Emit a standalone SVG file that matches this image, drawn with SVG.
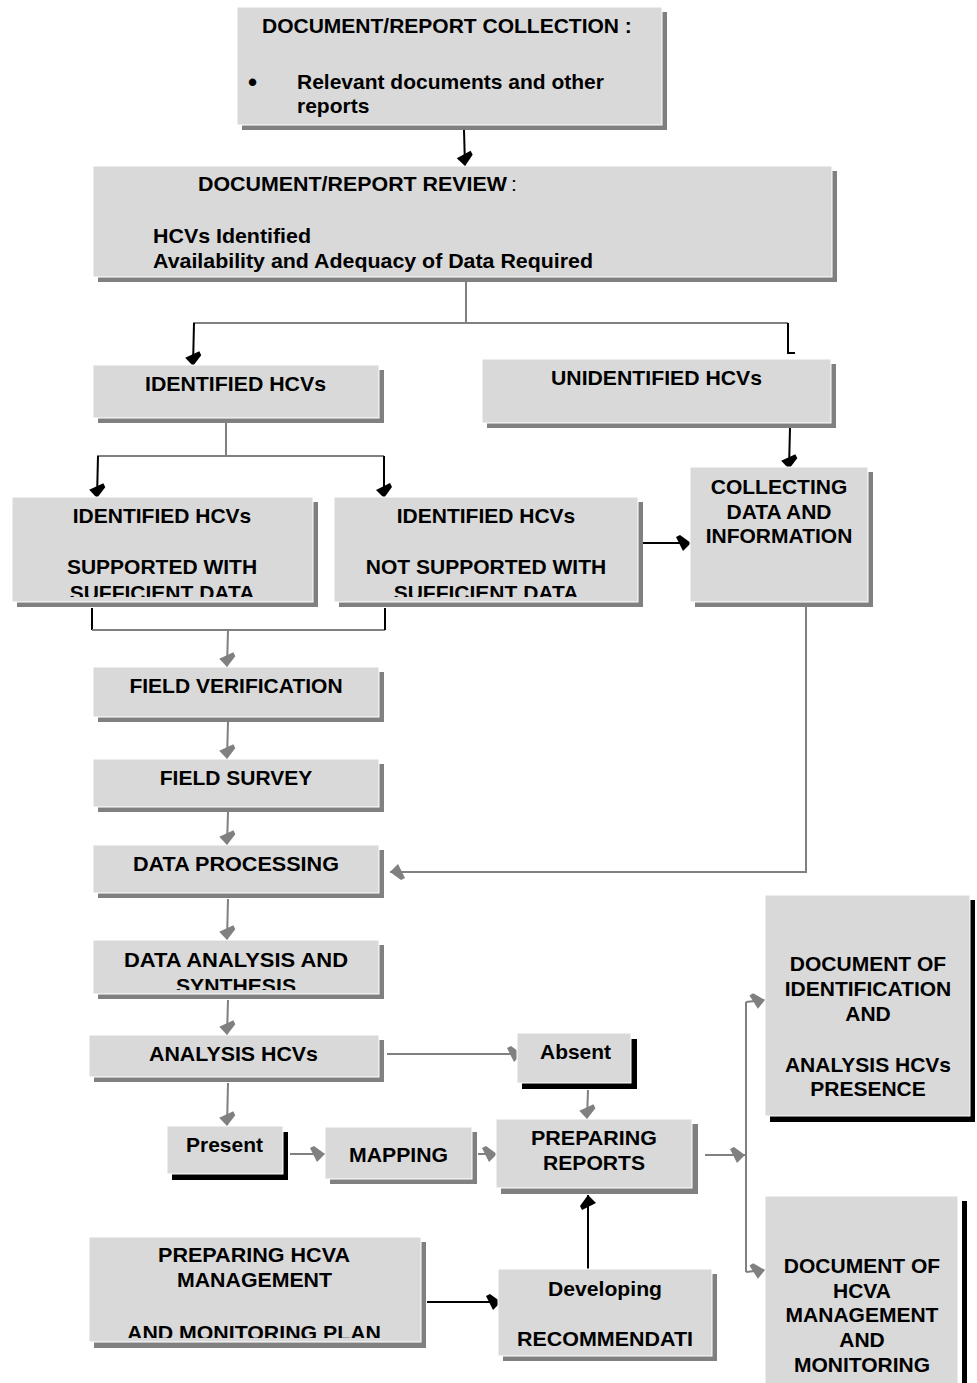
<svg xmlns="http://www.w3.org/2000/svg" width="977" height="1383" viewBox="0 0 977 1383">
<style>
.box{fill:#d9d9d9;stroke:#ffffff;stroke-width:1}
.sh{fill:#808080}
.shk{fill:#000000}
text{font-family:"Liberation Sans",Arial,sans-serif;font-weight:bold;font-size:21px;fill:#000}
.c{text-anchor:middle}
.n{font-weight:normal}
.b{font-size:26px}
.lk{stroke:#000;stroke-width:2;fill:none}
.lg{stroke:#808080;stroke-width:2;fill:none}
</style>
<defs>
<marker id="ak" markerWidth="18" markerHeight="18" refX="16" refY="9" orient="auto" markerUnits="userSpaceOnUse">
<path d="M1,3 L5,1 L16,9 L8,17 Z" fill="#000"/>
</marker>
<marker id="ag" markerWidth="18" markerHeight="18" refX="16" refY="9" orient="auto" markerUnits="userSpaceOnUse">
<path d="M1,3 L5,1 L16,9 L8,17 Z" fill="#808080"/>
</marker>
<clipPath id="cl5"><rect x="12" y="497" width="301" height="100"/></clipPath>
<clipPath id="cl6"><rect x="334" y="497" width="304" height="100"/></clipPath>
<clipPath id="cl11"><rect x="93" y="940" width="286" height="50"/></clipPath>
<clipPath id="cl19"><rect x="89" y="1237" width="332" height="101"/></clipPath>
</defs>

<g id="connectors">
<line class="lk" x1="464" y1="130" x2="465" y2="166" marker-end="url(#ak)"/>
<polyline class="lg" points="466,282 466,323"/>
<polyline class="lg" points="193,323 788,323"/>
<line class="lk" x1="194" y1="323" x2="193" y2="366" marker-end="url(#ak)"/>
<polyline class="lk" points="788,323 788,353 795,353"/>
<polyline class="lg" points="226,423 226,456"/>
<polyline class="lg" points="97,456 384,456"/>
<line class="lk" x1="98" y1="456" x2="97" y2="498" marker-end="url(#ak)"/>
<line class="lk" x1="384" y1="456" x2="384" y2="498" marker-end="url(#ak)"/>
<line class="lk" x1="790" y1="428" x2="789" y2="469" marker-end="url(#ak)"/>
<line class="lk" x1="643" y1="543" x2="691" y2="543" marker-end="url(#ak)"/>
<polyline class="lk" points="92,608 92,630"/>
<polyline class="lg" points="92,630 385,630"/>
<polyline class="lk" points="385,608 385,630"/>
<line class="lg" x1="228" y1="630" x2="227" y2="667" marker-end="url(#ag)"/>
<line class="lg" x1="228" y1="722" x2="227" y2="759" marker-end="url(#ag)"/>
<line class="lg" x1="228" y1="812" x2="227" y2="845" marker-end="url(#ag)"/>
<polyline class="lg" points="806,607 806,872 390,872" marker-end="url(#ag)"/>
<line class="lg" x1="228" y1="899" x2="227" y2="940" marker-end="url(#ag)"/>
<line class="lg" x1="228" y1="1000" x2="227" y2="1035" marker-end="url(#ag)"/>
<line class="lg" x1="387" y1="1054" x2="522" y2="1054" marker-end="url(#ag)"/>
<line class="lg" x1="228" y1="1083" x2="227" y2="1126" marker-end="url(#ag)"/>
<line class="lg" x1="290" y1="1154" x2="325" y2="1154" marker-end="url(#ag)"/>
<line class="lg" x1="478" y1="1154" x2="497" y2="1154" marker-end="url(#ag)"/>
<line class="lg" x1="588" y1="1090" x2="587" y2="1119" marker-end="url(#ag)"/>
<line class="lg" x1="705" y1="1155" x2="745" y2="1155" marker-end="url(#ag)"/>
<polyline class="lg" points="746,1002 746,1272"/>
<line class="lg" x1="746" y1="1002" x2="765" y2="1000" marker-end="url(#ag)"/>
<line class="lg" x1="746" y1="1272" x2="765" y2="1270" marker-end="url(#ag)"/>
<line class="lk" x1="427" y1="1302" x2="501" y2="1302" marker-end="url(#ak)"/>
<line class="lk" x1="588" y1="1269" x2="588" y2="1195" marker-end="url(#ak)"/>
</g>

<g id="n1">
<rect class="sh" x="242" y="12" width="425" height="118"/>
<rect class="box" x="237" y="7" width="425" height="118"/>
<text x="262" y="33">DOCUMENT/REPORT COLLECTION :</text>
<text class="b" x="248" y="91">•</text>
<text x="297" y="89">Relevant documents and other</text>
<text x="297" y="113">reports</text>
</g>

<g id="n2">
<rect class="sh" x="98" y="171" width="739" height="111"/>
<rect class="box" x="93" y="166" width="739" height="111"/>
<text x="198" y="191" textLength="309" lengthAdjust="spacingAndGlyphs">DOCUMENT/REPORT REVIEW</text>
<text class="n" x="511" y="191">:</text>
<text x="153" y="243" textLength="158" lengthAdjust="spacingAndGlyphs">HCVs Identified</text>
<text x="153" y="268" textLength="440" lengthAdjust="spacingAndGlyphs">Availability and Adequacy of Data Required</text>
</g>

<g id="n3">
<rect class="sh" x="98" y="370" width="286" height="53"/>
<rect class="box" x="93" y="365" width="286" height="53"/>
<text x="145" y="391" textLength="181" lengthAdjust="spacingAndGlyphs">IDENTIFIED HCVs</text>
</g>

<g id="n4">
<rect class="sh" x="487" y="364" width="349" height="64"/>
<rect class="box" x="482" y="359" width="349" height="64"/>
<text x="551" y="385" textLength="211" lengthAdjust="spacingAndGlyphs">UNIDENTIFIED HCVs</text>
</g>

<g id="n5">
<rect class="sh" x="17" y="502" width="301" height="105"/>
<rect class="box" x="12" y="497" width="301" height="105"/>
<g clip-path="url(#cl5)">
<text class="c" x="162" y="523">IDENTIFIED HCVs</text>
<text class="c" x="162" y="574">SUPPORTED WITH</text>
<text class="c" x="162" y="600">SUFFICIENT DATA</text>
</g>
</g>

<g id="n6">
<rect class="sh" x="339" y="502" width="304" height="105"/>
<rect class="box" x="334" y="497" width="304" height="105"/>
<g clip-path="url(#cl6)">
<text class="c" x="486" y="523">IDENTIFIED HCVs</text>
<text class="c" x="486" y="574">NOT SUPPORTED WITH</text>
<text class="c" x="486" y="600">SUFFICIENT DATA</text>
</g>
</g>

<g id="n7">
<rect class="sh" x="695" y="472" width="178" height="135"/>
<rect class="box" x="690" y="467" width="178" height="135"/>
<text class="c" x="779" y="494">COLLECTING</text>
<text class="c" x="779" y="519">DATA AND</text>
<text class="c" x="779" y="543">INFORMATION</text>
</g>

<g id="n8">
<rect class="sh" x="98" y="672" width="286" height="50"/>
<rect class="box" x="93" y="667" width="286" height="50"/>
<text class="c" x="236" y="693">FIELD VERIFICATION</text>
</g>

<g id="n9">
<rect class="sh" x="98" y="764" width="286" height="48"/>
<rect class="box" x="93" y="759" width="286" height="48"/>
<text class="c" x="236" y="785">FIELD SURVEY</text>
</g>

<g id="n10">
<rect class="sh" x="98" y="850" width="286" height="48"/>
<rect class="box" x="93" y="845" width="286" height="48"/>
<text x="133" y="871" textLength="206" lengthAdjust="spacingAndGlyphs">DATA PROCESSING</text>
</g>

<g id="n11">
<rect class="sh" x="98" y="945" width="286" height="54"/>
<rect class="box" x="93" y="940" width="286" height="54"/>
<g clip-path="url(#cl11)">
<text x="124" y="967" textLength="224" lengthAdjust="spacingAndGlyphs">DATA ANALYSIS AND</text>
<text x="176" y="993" textLength="120" lengthAdjust="spacingAndGlyphs">SYNTHESIS</text>
</g>
</g>

<g id="n12">
<rect class="sh" x="94" y="1040" width="290" height="42"/>
<rect class="box" x="89" y="1035" width="290" height="42"/>
<text x="149" y="1061" textLength="169" lengthAdjust="spacingAndGlyphs">ANALYSIS HCVs</text>
</g>

<g id="n13">
<rect class="shk" x="522" y="1039" width="115" height="50"/>
<rect class="box" x="517" y="1033" width="114" height="50"/>
<text x="540" y="1059" textLength="71" lengthAdjust="spacingAndGlyphs">Absent</text>
</g>

<g id="n14">
<rect class="shk" x="172" y="1132" width="116" height="48"/>
<rect class="box" x="167" y="1126" width="116" height="48"/>
<text x="186" y="1152" textLength="77" lengthAdjust="spacingAndGlyphs">Present</text>
</g>

<g id="n15">
<rect class="sh" x="330" y="1132" width="147" height="52"/>
<rect class="box" x="325" y="1127" width="147" height="52"/>
<text x="349" y="1162" textLength="99" lengthAdjust="spacingAndGlyphs">MAPPING</text>
</g>

<g id="n16">
<rect class="sh" x="501" y="1124" width="197" height="70"/>
<rect class="box" x="496" y="1119" width="196" height="69"/>
<text x="531" y="1145" textLength="126" lengthAdjust="spacingAndGlyphs">PREPARING</text>
<text x="543" y="1170" textLength="102" lengthAdjust="spacingAndGlyphs">REPORTS</text>
</g>

<g id="n17">
<rect class="shk" x="770" y="900" width="205" height="222"/>
<rect class="box" x="765" y="895" width="205" height="221"/>
<text class="c" x="868" y="971">DOCUMENT OF</text>
<text class="c" x="868" y="996">IDENTIFICATION</text>
<text class="c" x="868" y="1021">AND</text>
<text class="c" x="868" y="1072">ANALYSIS HCVs</text>
<text class="c" x="868" y="1096">PRESENCE</text>
</g>

<g id="n18">
<rect class="shk" x="962" y="1201" width="5" height="182"/>
<rect class="box" x="765" y="1196" width="193" height="190"/>
<text class="c" x="862" y="1273">DOCUMENT OF</text>
<text class="c" x="862" y="1298">HCVA</text>
<text class="c" x="862" y="1322">MANAGEMENT</text>
<text class="c" x="862" y="1347">AND</text>
<text class="c" x="862" y="1372">MONITORING</text>
</g>

<g id="n19">
<rect class="sh" x="94" y="1242" width="332" height="106"/>
<rect class="box" x="89" y="1237" width="332" height="105"/>
<text x="158" y="1262" textLength="192" lengthAdjust="spacingAndGlyphs">PREPARING HCVA</text>
<text x="177" y="1287" textLength="155" lengthAdjust="spacingAndGlyphs">MANAGEMENT</text>
<g clip-path="url(#cl19)">
<text x="127" y="1340" textLength="254" lengthAdjust="spacingAndGlyphs">AND MONITORING PLAN</text>
</g>
</g>

<g id="n20">
<rect class="sh" x="503" y="1274" width="214" height="87"/>
<rect class="box" x="498" y="1269" width="214" height="87"/>
<text x="548" y="1296" textLength="114" lengthAdjust="spacingAndGlyphs">Developing</text>
<text x="517" y="1346" textLength="176" lengthAdjust="spacingAndGlyphs">RECOMMENDATI</text>
</g>
</svg>
